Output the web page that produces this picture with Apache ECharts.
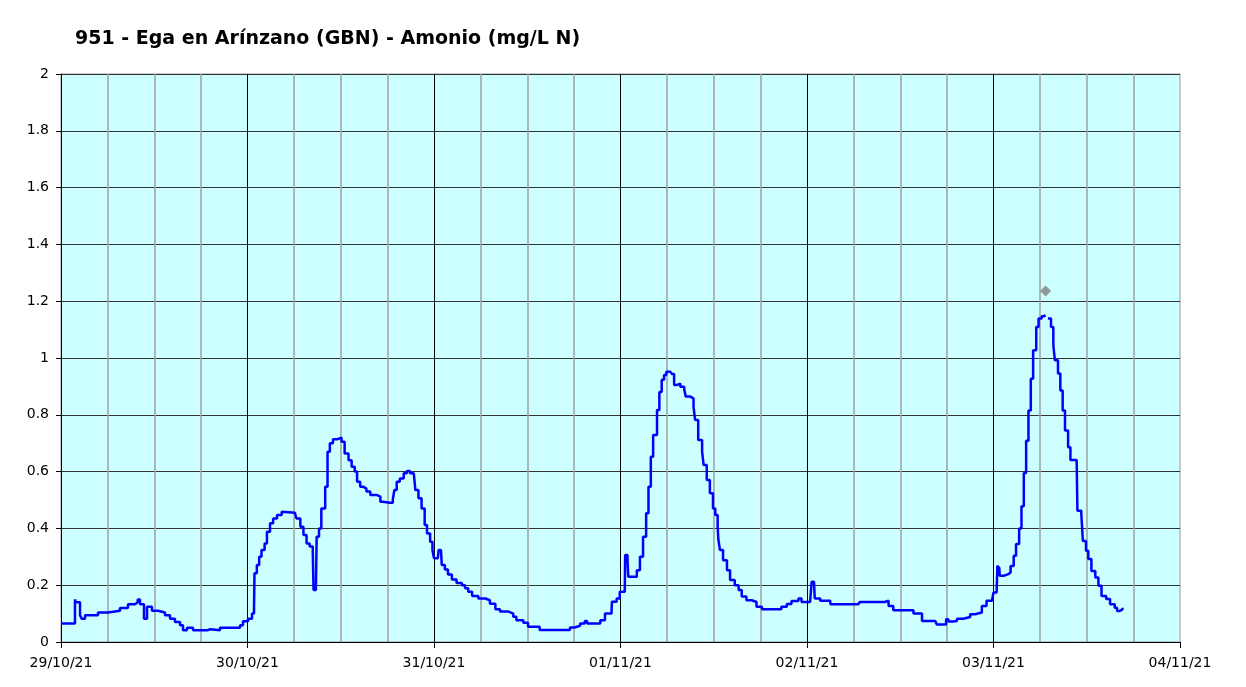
<!DOCTYPE html>
<html>
<head>
<meta charset="utf-8">
<script src="https://cdn.jsdelivr.net/npm/echarts@6/dist/echarts.min.js"></script>
<style>
  html, body { margin: 0; padding: 0; background: #fff; }
  #chart { width: 1246px; height: 687px; }
</style>
</head>
<body>
<div id="chart"></div>
<script>
  // eje x en horas desde 29/10/21 00:00
  var fechas = ['29/10/21', '30/10/21', '31/10/21', '01/11/21', '02/11/21', '03/11/21', '04/11/21'];

  var horas = [
    0, 1.8, 1.9, 2.45, 2.66, 3.09, 4.76, 6.05, 7.59, 8.62, 9.52, 9.87, 10.17, 10.68, 11.07, 11.7, 12.48, 13.38, 14.03, 14.67,
    15.32, 15.7, 16.21, 16.99, 18.8, 19.2, 20.46, 23.04, 23.42, 24.07, 24.58, 24.84, 24.9, 25.2, 25.5, 25.8, 26.2, 26.5, 26.9, 27.3,
    27.8, 28.4, 28.6, 30.1, 30.3, 30.8, 31.2, 31.6, 32.0, 32.4, 32.5, 32.8, 32.9, 33.2, 33.5, 34.0, 34.3, 34.6, 35.0, 35.6,
    36.1, 36.5, 37.0, 37.4, 37.8, 38.1, 38.5, 38.9, 39.3, 39.8, 40.6, 41.1, 41.4, 42.3, 42.7, 42.9, 43.2, 43.6, 44.1, 44.5,
    44.9, 45.4, 45.6, 46.0, 46.4, 46.8, 47.1, 47.5, 47.8, 48.0, 48.5, 48.6, 48.9, 49.0, 49.4, 49.8, 50.3, 50.9, 51.6, 52.0,
    52.4, 52.9, 53.7, 54.6, 55.2, 55.9, 56.5, 57.6, 58.2, 58.6, 59.5, 60.1, 61.6, 65.1, 65.5, 66.1, 66.8, 67.4, 67.7, 68.7,
    69.4, 70.0, 70.85, 70.9, 71.5, 71.9, 72.55, 72.6, 72.9, 73.0, 73.6, 74.1, 74.5, 74.9, 75.3, 75.6, 75.9, 76.2, 76.7, 77.0,
    77.3, 77.6, 77.9, 78.4, 78.6, 78.9, 79.3, 79.7, 80.2, 80.4, 81.0, 81.4, 81.6, 82.0, 82.5, 82.7, 83.1, 83.5, 83.9, 84.2,
    84.5, 84.6, 84.8, 85.2, 85.7, 86.1, 86.7, 87.2, 87.6, 88.2, 88.9, 89.5, 90.2, 92.1, 92.7, 93.4, 94.0, 94.9, 95.3, 96.4,
    96.6, 96.9, 97.0, 97.7, 99.0, 102.6, 102.8, 106.0, 106.2, 106.5, 107.1, 109.3, 109.7, 110.3, 110.8, 112.5, 112.7, 113.3, 113.9, 114.2,
    114.8, 115.3, 116.1, 117.0, 117.6, 118.5, 119.1, 119.8, 120.0, 120.4, 120.5, 120.75, 120.8, 121.3, 121.9, 122.2, 122.6, 122.9, 123.3, 123.6,
    123.9, 124.2, 124.5, 124.8, 125.1, 125.5, 125.8, 126.2, 126.5, 126.7, 127.0, 127.4, 127.7, 127.9, 128.3, 128.6, 128.9, 129.2, 129.6, 129.9,
    130.7, 130.8, 131.3, 131.5, 131.9, 132.2, 132.6, 133.1, 133.5, 133.9, 134.5, 135.0, 135.6, 135.9, 136.2, 136.6
  ];

  var amonio = [
    0.065, 0.15, 0.14, 0.094, 0.082, 0.094, 0.104, 0.11, 0.12, 0.133, 0.14, 0.15, 0.133, 0.082, 0.124, 0.11, 0.104, 0.094, 0.082, 0.07,
    0.059, 0.041, 0.05, 0.041, 0.045, 0.041, 0.05, 0.059, 0.073, 0.082, 0.1, 0.124, 0.242, 0.271, 0.30, 0.324, 0.347, 0.388, 0.418, 0.435,
    0.447, 0.459, 0.455, 0.455, 0.435, 0.406, 0.377, 0.347, 0.336, 0.318, 0.183, 0.19, 0.371, 0.40, 0.47, 0.547, 0.67, 0.70, 0.714, 0.72,
    0.705, 0.664, 0.64, 0.617, 0.60, 0.564, 0.547, 0.54, 0.53, 0.518, 0.512, 0.494, 0.49, 0.49, 0.502, 0.535, 0.564, 0.576, 0.594, 0.602,
    0.594, 0.594, 0.535, 0.506, 0.47, 0.412, 0.382, 0.353, 0.324, 0.295, 0.295, 0.324, 0.324, 0.271, 0.255, 0.238, 0.22, 0.208, 0.20, 0.189,
    0.177, 0.162, 0.153, 0.147, 0.135, 0.115, 0.107, 0.10, 0.089, 0.077, 0.068, 0.054, 0.042, 0.042, 0.051, 0.057, 0.065, 0.074, 0.065, 0.065,
    0.077, 0.10, 0.112, 0.142, 0.153, 0.177, 0.183, 0.306, 0.29, 0.23, 0.23, 0.253, 0.30, 0.371, 0.453, 0.547, 0.652, 0.729, 0.817, 0.88,
    0.923, 0.94, 0.952, 0.952, 0.944, 0.905, 0.91, 0.899, 0.89, 0.864, 0.857, 0.828, 0.782, 0.711, 0.67, 0.623, 0.57, 0.524, 0.47, 0.447,
    0.406, 0.359, 0.324, 0.288, 0.253, 0.218, 0.20, 0.183, 0.16, 0.147, 0.141, 0.124, 0.115, 0.115, 0.124, 0.134, 0.144, 0.153, 0.141, 0.141,
    0.212, 0.205, 0.153, 0.145, 0.133, 0.133, 0.141, 0.141, 0.145, 0.127, 0.112, 0.112, 0.10, 0.10, 0.074, 0.074, 0.062, 0.062, 0.08, 0.072,
    0.074, 0.082, 0.088, 0.098, 0.104, 0.127, 0.145, 0.15, 0.174, 0.174, 0.268, 0.26, 0.233, 0.239, 0.245, 0.268, 0.304, 0.345, 0.40, 0.478,
    0.595, 0.709, 0.815, 0.927, 1.027, 1.109, 1.139, 1.147, 1.151, null, 1.139, 1.109, 1.045, 0.992, 0.945, 0.886, 0.815, 0.745, 0.686, 0.641,
    0.641, 0.462, 0.45, 0.356, 0.321, 0.292, 0.25, 0.227, 0.198, 0.162, 0.151, 0.133, 0.121, 0.109, 0.115, 0.121
  ];

  // punto aislado (gris)
  var puntoHora = [126.7];
  var puntoValor = [1.236];

  var serie = horas.map(function (h, i) { return [h, amonio[i]]; });
  var puntos = puntoHora.map(function (h, i) { return [h, puntoValor[i]]; });

  var chart = echarts.init(document.getElementById('chart'));
  chart.setOption({
    animation: false,
    title: {
      text: '951 - Ega en Arínzano (GBN) - Amonio (mg/L N)',
      left: 70,
      top: 25,
      textStyle: { fontFamily: 'DejaVu Sans', fontWeight: 'bold', fontSize: 19, color: '#000' }
    },
    grid: {
      left: 61, right: 66, top: 74, bottom: 45,
      show: true,
      backgroundColor: '#ccffff',
      borderColor: '#999',
      borderWidth: 1
    },
    xAxis: {
      type: 'value',
      min: 0,
      max: 144,
      interval: 24,
      axisLine: { show: true, onZero: false, lineStyle: { color: '#000', width: 1 } },
      axisTick: { show: true, length: 6, lineStyle: { color: '#000' } },
      axisLabel: {
        color: '#000',
        fontFamily: 'DejaVu Sans',
        fontSize: 14,
        margin: 14,
        formatter: function (v) { return fechas[Math.round(v / 24)]; }
      },
      splitLine: { show: true, showMaxLine: false, lineStyle: { color: '#000', width: 1 } },
      minorTick: { show: false, splitNumber: 4 },
      minorSplitLine: { show: true, lineStyle: { color: '#a0a0a0', width: 1.5 } }
    },
    yAxis: {
      type: 'value',
      min: 0,
      max: 2,
      interval: 0.2,
      axisLine: { show: true, lineStyle: { color: '#000', width: 1 } },
      axisTick: { show: true, length: 5, lineStyle: { color: '#000' } },
      axisLabel: {
        color: '#000',
        fontFamily: 'DejaVu Sans',
        fontSize: 14,
        margin: 12,
        formatter: function (v) { return String(Math.round(v * 10) / 10); }
      },
      splitLine: { show: true, lineStyle: { color: '#333', width: 1 } }
    },
    series: [
      {
        type: 'line',
        data: serie,
        step: 'end',
        showSymbol: false,
        connectNulls: false,
        lineStyle: { color: '#0000ff', width: 2.5 },
        z: 3
      },
      {
        type: 'scatter',
        data: puntos,
        symbol: 'diamond',
        symbolSize: 11,
        itemStyle: { color: '#808080' },
        z: 4
      }
    ]
  });
</script>
</body>
</html>
